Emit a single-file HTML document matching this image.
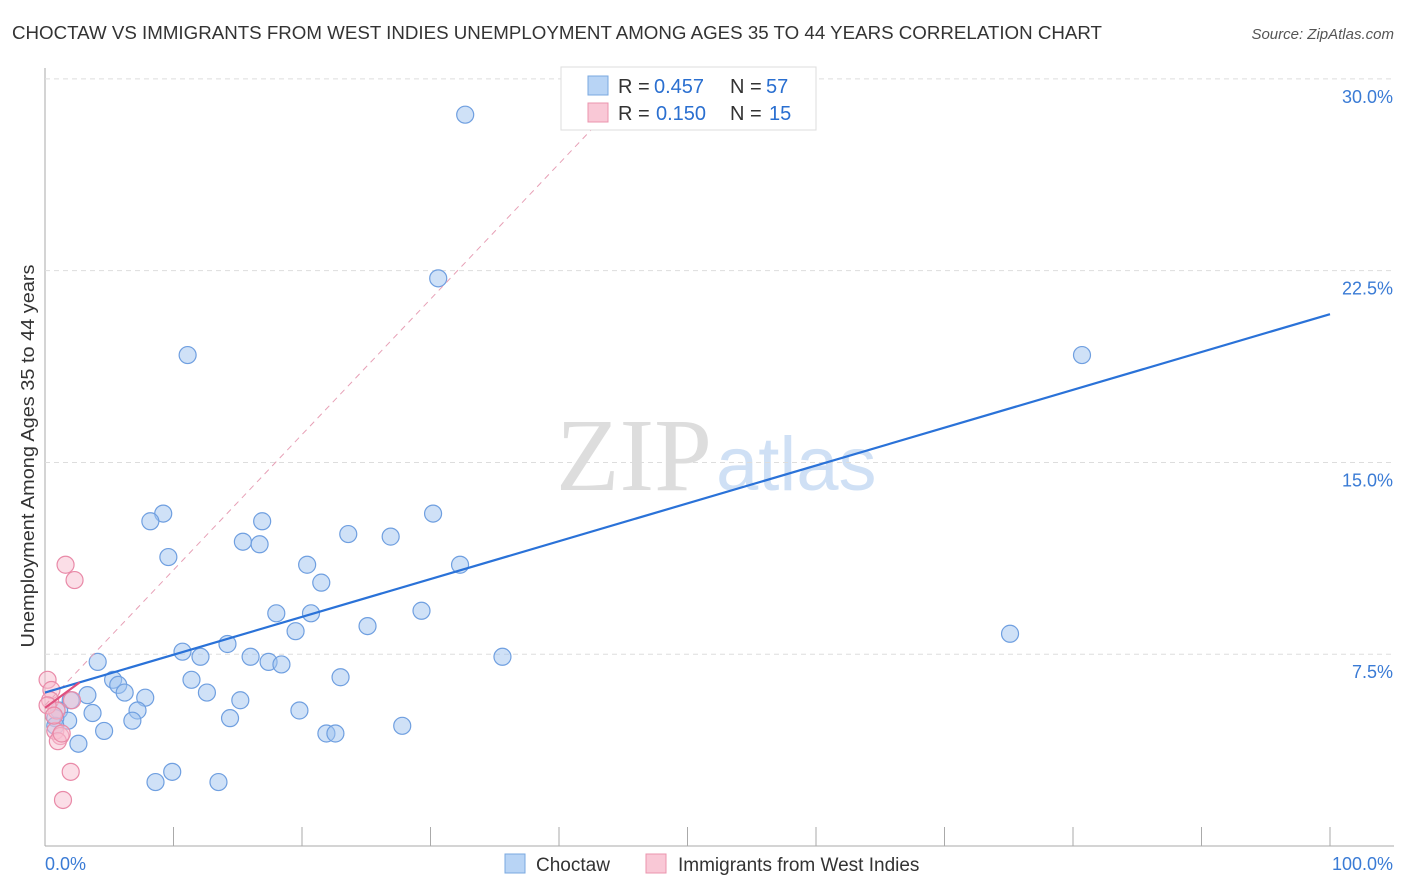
<!DOCTYPE html>
<html><head><meta charset="utf-8"><style>
body{margin:0;background:#fff;font-family:"Liberation Sans",sans-serif}
svg{display:block}
text{white-space:pre}
</style></head><body>
<svg id="chart" width="1406" height="892">
<text x="12" y="39" font-size="18" textLength="1090" lengthAdjust="spacingAndGlyphs" fill="#333">CHOCTAW VS IMMIGRANTS FROM WEST INDIES UNEMPLOYMENT AMONG AGES 35 TO 44 YEARS CORRELATION CHART</text>
<text x="1394" y="39" font-size="15" font-style="italic" fill="#555" text-anchor="end">Source: ZipAtlas.com</text>
<text x="34" y="456" font-size="18" textLength="383" lengthAdjust="spacingAndGlyphs" fill="#333" text-anchor="middle" transform="rotate(-90 34 456)">Unemployment Among Ages 35 to 44 years</text>
<text x="712" y="490" font-size="104" font-family="Liberation Serif,serif" fill="#ddd" text-anchor="end">ZIP</text>
<text x="716" y="490" font-size="76" fill="#cfe0f5">atlas</text>
<g id="grid"></g><g id="marks"></g>
<g>
<rect x="561" y="67" width="255" height="63" fill="#fff" stroke="#ddd"/>
<rect x="588" y="76" width="20" height="19" fill="#b8d4f5" stroke="#7aa8e0"/>
<rect x="588" y="103" width="20" height="19" fill="#f9c8d6" stroke="#eb94ae"/>
<text x="618" y="93" font-size="20" fill="#333">R =</text><text x="654" y="93" font-size="20" fill="#2a6fd0">0.457</text>
<text x="730" y="93" font-size="20" fill="#333">N =</text><text x="766" y="93" font-size="20" fill="#2a6fd0">57</text>
<text x="618" y="120" font-size="20" fill="#333">R =</text><text x="656" y="120" font-size="20" fill="#2a6fd0">0.150</text>
<text x="730" y="120" font-size="20" fill="#333">N =</text><text x="769" y="120" font-size="20" fill="#2a6fd0">15</text>
</g>
<g>
<rect x="505" y="854" width="20" height="19" fill="#b8d4f5" stroke="#7aa8e0"/>
<text x="536" y="871" font-size="19" fill="#333">Choctaw</text>
<rect x="646" y="854" width="20" height="19" fill="#f9c8d6" stroke="#eb94ae"/>
<text x="678" y="871" font-size="19" fill="#333">Immigrants from West Indies</text>
</g>
</svg>
<script>
const yTicks=[7.5,15,22.5,30];
const yTickLabels=["7.5%","15.0%","22.5%","30.0%"];
const blueX=[32.7,30.6,11.1,80.7,9.2,8.2,16.9,30.2,23.6,26.9,15.4,16.7,9.6,20.4,32.3,21.5,18.0,20.7,29.3,25.1,19.5,14.2,10.7,12.1,16.0,4.1,17.4,18.4,35.6,75.1,23.0,5.3,11.4,5.7,6.2,12.6,3.3,7.8,2.0,15.2,1.1,7.2,3.7,19.8,14.4,6.8,1.8,0.8,4.6,21.9,22.6,2.6,27.8,9.9,8.6,13.5,0.8];
const blueY=[28.6,22.2,19.2,19.2,13.0,12.7,12.7,13.0,12.2,12.1,11.9,11.8,11.3,11.0,11.0,10.3,9.1,9.1,9.2,8.6,8.4,7.9,7.6,7.4,7.4,7.2,7.2,7.1,7.4,8.3,6.6,6.5,6.5,6.3,6.0,6.0,5.9,5.8,5.7,5.7,5.3,5.3,5.2,5.3,5.0,4.9,4.9,5.0,4.5,4.4,4.4,4.0,4.7,2.9,2.5,2.5,4.7];
const pinkX=[0.2,0.5,0.4,0.9,0.2,2.1,0.8,1.2,1.0,1.6,2.3,2.0,1.4,0.7,1.3];
const pinkY=[6.5,6.1,5.7,5.3,5.5,5.7,4.5,4.3,4.1,11.0,10.4,2.9,1.8,5.1,4.4];
const blueTrendX=[0,100];const blueTrendY=[6.0,20.8];
const pinkSolidX=[0,2.7];const pinkSolidY=[5.4,6.4];
const pinkDashX=[0,44];const pinkDashY=[5.5,28.8];
const X=v=>45+v*12.85, Y=v=>846-v*25.57;
const NS="http://www.w3.org/2000/svg";
const grid=document.getElementById('grid'),marks=document.getElementById('marks');
function mk(t,a,p){const e=document.createElementNS(NS,t);for(const k in a)e.setAttribute(k,a[k]);p.appendChild(e);return e;}
let ax=mk('line',{x1:45,y1:68,x2:45,y2:846,stroke:'#aaa'},grid);


let bx=mk('line',{x1:45,y1:846,x2:1394,y2:846,stroke:'#aaa'},grid);


for(let i=1;i<=10;i++){let t=mk('line',{x1:X(i*10),x2:X(i*10),y1:827,y2:846,stroke:'#aaa'},grid);

}
yTicks.forEach((v,i)=>{let g=mk('line',{x1:45,x2:1394,y1:Y(v),y2:Y(v),stroke:'#ddd','stroke-dasharray':'5,4'},grid);


let t=mk('text',{x:1393,y:Y(v)+24,'font-size':18,fill:'#3a7bd5','text-anchor':'end'},grid);t.textContent=yTickLabels[i];

});
let l0=mk('text',{x:45,y:870,'font-size':18,fill:'#3a7bd5'},grid);l0.textContent='0.0%';


let l1=mk('text',{x:1393,y:870,'font-size':18,fill:'#3a7bd5','text-anchor':'end'},grid);l1.textContent='100.0%';


blueX.forEach((v,i)=>{let c=mk('circle',{cx:X(v),cy:Y(blueY[i]),r:8.5,fill:'rgba(160,196,240,0.5)',stroke:'#6f9fe0','stroke-width':1.2},marks);

});
pinkX.forEach((v,i)=>{let c=mk('circle',{cx:X(v),cy:Y(pinkY[i]),r:8.5,fill:'rgba(248,190,208,0.5)',stroke:'#e98aa8','stroke-width':1.2},marks);

});
let pd=mk('line',{x1:X(pinkDashX[0]),y1:Y(pinkDashY[0]),x2:X(pinkDashX[1]),y2:Y(pinkDashY[1]),stroke:'#e7a0b6','stroke-dasharray':'6,5'},marks);


let bt=mk('line',{x1:X(blueTrendX[0]),y1:Y(blueTrendY[0]),x2:X(blueTrendX[1]),y2:Y(blueTrendY[1]),stroke:'#2a72d8','stroke-width':2.2},marks);


let ps=mk('line',{x1:X(pinkSolidX[0]),y1:Y(pinkSolidY[0]),x2:X(pinkSolidX[1]),y2:Y(pinkSolidY[1]),stroke:'#e0507e','stroke-width':2.2},marks);


</script>
</body></html>
